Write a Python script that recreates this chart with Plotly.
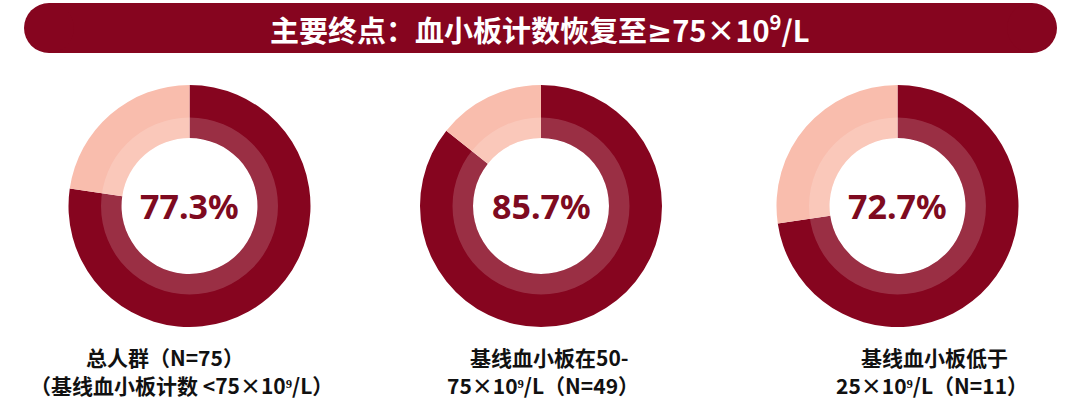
import plotly.graph_objects as go

# ---- data ----
title_text = ("主要终点：血小板计数恢复至"
              "<span style='font-family:DejaVu Sans;font-size:30px'>≥</span>75×10<sup>9</sup>/L")
groups = ["总人群", "基线血小板50-75", "基线血小板<25"]
responder_pct = [77.3, 85.7, 72.7]
pct_labels = ["77.3%", "85.7%", "72.7%"]
label_line1 = ["总人群（N=75）", "基线血小板在50-", "基线血小板低于"]
label_line2 = ["（基线血小板计数 <75×10⁹/L）", "75×10⁹/L（N=49）", "25×10⁹/L（N=11）"]

# ---- layout constants (pixels) ----
W, H = 1080, 413
DARK = "#86051F"
PINK = "#F9BDAD"
centers_x = [189.5, 541, 897.5]
center_y = 206
R_OUT = 121
R_MID = 88.5
R_IN = 68

label1_x = [165, 549, 934]
label2_x = [181, 543, 932]
label1_y = 357
label2_y = 385

FONT = "Noto Sans CJK SC"


def px(x):
    return x / W


def py(y):
    return 1 - y / H


fig = go.Figure()

for i, pct in enumerate(responder_pct):
    cx = centers_x[i]
    fig.add_trace(go.Pie(
        values=[pct, 100 - pct],
        labels=["达到", "未达到"],
        marker=dict(colors=[DARK, PINK], line=dict(width=0)),
        hole=R_IN / R_OUT,
        sort=False,
        direction="clockwise",
        rotation=0,
        textinfo="none",
        hoverinfo="skip",
        showlegend=False,
        domain=dict(x=[px(cx - R_OUT), px(cx + R_OUT)],
                    y=[py(center_y + R_OUT), py(center_y - R_OUT)]),
    ))
    # lighter inner ring overlay
    fig.add_trace(go.Pie(
        values=[1],
        labels=["ring"],
        marker=dict(colors=["rgba(255,255,255,0.17)"], line=dict(width=0)),
        hole=R_IN / R_MID,
        sort=False,
        textinfo="none",
        hoverinfo="skip",
        showlegend=False,
        domain=dict(x=[px(cx - R_MID), px(cx + R_MID)],
                    y=[py(center_y + R_MID), py(center_y - R_MID)]),
    ))
    fig.add_annotation(
        x=px(cx), y=py(center_y), xref="paper", yref="paper",
        text=pct_labels[i], showarrow=False,
        font=dict(family="Noto Sans", size=34, color="#7E0A20", weight="bold"),
        xanchor="center", yanchor="middle",
    )
    fig.add_annotation(
        x=px(label1_x[i]), y=py(label1_y), xref="paper", yref="paper",
        text=label_line1[i], showarrow=False,
        font=dict(family=FONT, size=21, color="#111111", weight="bold"),
        xanchor="center", yanchor="middle",
    )
    fig.add_annotation(
        x=px(label2_x[i]), y=py(label2_y), xref="paper", yref="paper",
        text=label_line2[i], showarrow=False,
        font=dict(family=FONT, size=21, color="#111111", weight="bold"),
        xanchor="center", yanchor="middle",
    )

# banner (pill shape)
b_left, b_right, b_top, b_bot = 24, 1057, 3, 53
br = (b_bot - b_top) / 2
fig.add_shape(type="rect", xref="paper", yref="paper",
              x0=px(b_left + br), x1=px(b_right - br), y0=py(b_bot), y1=py(b_top),
              fillcolor=DARK, line=dict(width=0), layer="below")
for cx in (b_left + br, b_right - br):
    fig.add_shape(type="circle", xref="paper", yref="paper",
                  x0=px(cx - br), x1=px(cx + br), y0=py(b_bot), y1=py(b_top),
                  fillcolor=DARK, line=dict(width=0), layer="below")

fig.add_annotation(
    x=px(540), y=py(27.5), xref="paper", yref="paper",
    text=title_text, showarrow=False,
    font=dict(family=FONT, size=29, color="white", weight="bold"),
    xanchor="center", yanchor="middle",
)

fig.update_layout(
    width=W, height=H,
    margin=dict(l=0, r=0, t=0, b=0),
    paper_bgcolor="white", plot_bgcolor="white",
    showlegend=False,
)

fig.write_html("out.html",
               config={"displayModeBar": False},
               post_script="document.body.style.margin='0';document.body.style.overflow='hidden';")
